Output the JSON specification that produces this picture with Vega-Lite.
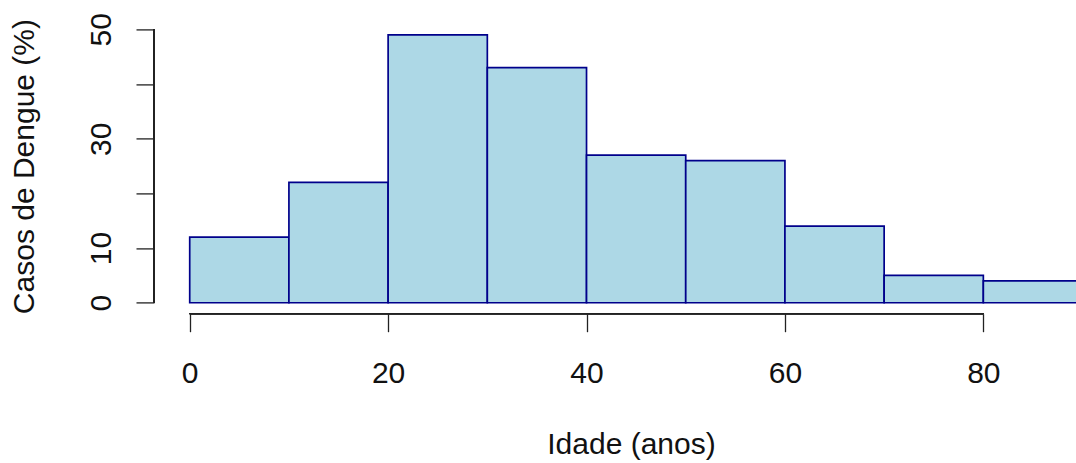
{
  "$schema": "https://vega.github.io/schema/vega-lite/v6.json",
  "autosize": {"type": "none"},
  "padding": {"left": 154, "top": 18.4, "right": 0, "bottom": 149.3},
  "width": 922,
  "height": 295.3,
  "background": "white",
  "config": {
    "view": {"stroke": null},
    "font": "Liberation Sans",
    "axis": {
      "domain": false,
      "grid": false,
      "tickColor": "#222222",
      "tickWidth": 1.3,
      "tickSize": 18,
      "labelFont": "Liberation Sans",
      "labelFontSize": 30,
      "labelColor": "#111111",
      "titleFont": "Liberation Sans",
      "titleFontSize": 30,
      "titleFontWeight": "normal",
      "titleColor": "#111111"
    }
  },
  "data": {
    "values": [
      {"inicio": 0, "fim": 10, "pct": 12},
      {"inicio": 10, "fim": 20, "pct": 22},
      {"inicio": 20, "fim": 30, "pct": 49},
      {"inicio": 30, "fim": 40, "pct": 43},
      {"inicio": 40, "fim": 50, "pct": 27},
      {"inicio": 50, "fim": 60, "pct": 26},
      {"inicio": 60, "fim": 70, "pct": 14},
      {"inicio": 70, "fim": 80, "pct": 5},
      {"inicio": 80, "fim": 90, "pct": 4}
    ]
  },
  "layer": [
    {
      "mark": {"type": "rect", "fill": "#ADD8E6", "stroke": "#00008B", "strokeWidth": 1.7, "clip": true},
      "encoding": {
        "x": {
          "field": "inicio",
          "type": "quantitative",
          "scale": {"domain": [-3.6, 89.34], "nice": false, "zero": false},
          "axis": {
            "values": [0, 20, 40, 60, 80],
            "labelBaseline": "alphabetic",
            "labelPadding": 51,
            "labelAngle": 0,
            "labelFlush": false,
            "labelOverlap": false,
            "title": "Idade (anos)",
            "titleX": 477,
            "titleY": 139.5,
            "titleBaseline": "alphabetic",
            "titleAlign": "center",
            "titleAnchor": null
          }
        },
        "x2": {"field": "fim"},
        "y": {
          "field": "pct",
          "type": "quantitative",
          "scale": {"domain": [-2, 52], "nice": false, "zero": false},
          "axis": {
            "values": [0, 10, 20, 30, 40, 50],
            "labelExpr": "datum.value == 20 || datum.value == 40 ? '' : datum.label",
            "labelAngle": -90,
            "labelAlign": "center",
            "labelBaseline": "alphabetic",
            "labelPadding": 26,
            "labelFlush": false,
            "labelOverlap": false,
            "title": "Casos de Dengue (%)",
            "titleX": -120.5,
            "titleY": 147.65,
            "titleAngle": -90,
            "titleBaseline": "alphabetic",
            "titleAlign": "center",
            "titleAnchor": null
          }
        },
        "y2": {"datum": 0}
      }
    },
    {
      "mark": {"type": "rule", "color": "#222222", "strokeWidth": 1.3},
      "encoding": {
        "x": {"datum": -3.6, "type": "quantitative"},
        "y": {"datum": 0, "type": "quantitative"},
        "y2": {"datum": 50}
      }
    },
    {
      "mark": {"type": "rule", "color": "#222222", "strokeWidth": 1.3},
      "encoding": {
        "y": {"datum": -2, "type": "quantitative"},
        "x": {"datum": 0, "type": "quantitative"},
        "x2": {"datum": 80}
      }
    }
  ]
}
